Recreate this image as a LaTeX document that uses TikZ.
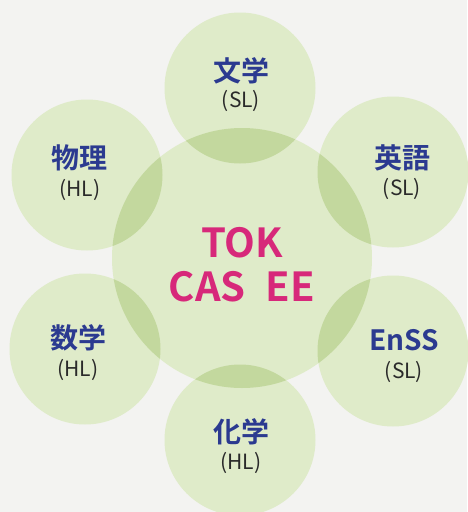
\documentclass[tikz,border=0pt]{standalone}
\usepackage{fontspec}
\setmainfont{Noto Sans CJK JP}
\newfontfamily\jpbold{Noto Sans CJK JP Bold}
\definecolor{bgc}{HTML}{F3F3F1}
\definecolor{circ}{HTML}{DFEBC9}
\definecolor{kanji}{HTML}{2B3A90}
\definecolor{subc}{HTML}{2A2A2A}
\definecolor{pink}{HTML}{D7287A}
\tikzset{
  bubble/.style={circle,fill=circ,inner sep=0pt,minimum size=#1},
  title/.style={font=\jpbold\fontsize{28}{30}\selectfont,text=kanji,inner sep=0pt},
  level/.style={font=\fontsize{21}{23}\selectfont,text=subc,inner sep=0pt},
  core/.style={font=\jpbold\fontsize{40}{44}\selectfont,text=pink,inner sep=0pt}
}
\begin{document}
\begin{tikzpicture}[x=1pt,y=-1pt]
\fill[bgc] (0,0) rectangle (467,512);
\useasboundingbox (0,0) rectangle (467,512);
\begin{scope}[blend group=multiply]
\node[bubble=260pt] (center) at (242,258) {};
\node[bubble=151pt] (c1) at (240,88) {};
\node[bubble=151pt] (c2) at (393,172) {};
\node[bubble=151pt] (c3) at (393,351) {};
\node[bubble=151pt] (c4) at (240,440) {};
\node[bubble=151pt] (c5) at (85,349) {};
\node[bubble=151pt] (c6) at (87,175) {};
\end{scope}
\node[core] (tok) at (242,243) {TOK};
\node[core] (cas) at (242,287) {CAS\hspace{20pt}EE};
\node[title] (t1) at (241,71) {文学};
\node[level] (l1) at (241,101) {(SL)};
\node[title] (t2) at (402,158) {英語};
\node[level] (l2) at (402,189) {(SL)};
\node[title] (t3) at (404,340) {EnSS};
\node[level] (l3) at (404,372) {(SL)};
\node[title] (t4) at (241,432) {化学};
\node[level] (l4) at (241,463) {(HL)};
\node[title] (t5) at (78,338) {数学};
\node[level] (l5) at (78,370) {(HL)};
\node[title] (t6) at (80,158) {物理};
\node[level] (l6) at (80,190) {(HL)};
\end{tikzpicture}
\end{document}
